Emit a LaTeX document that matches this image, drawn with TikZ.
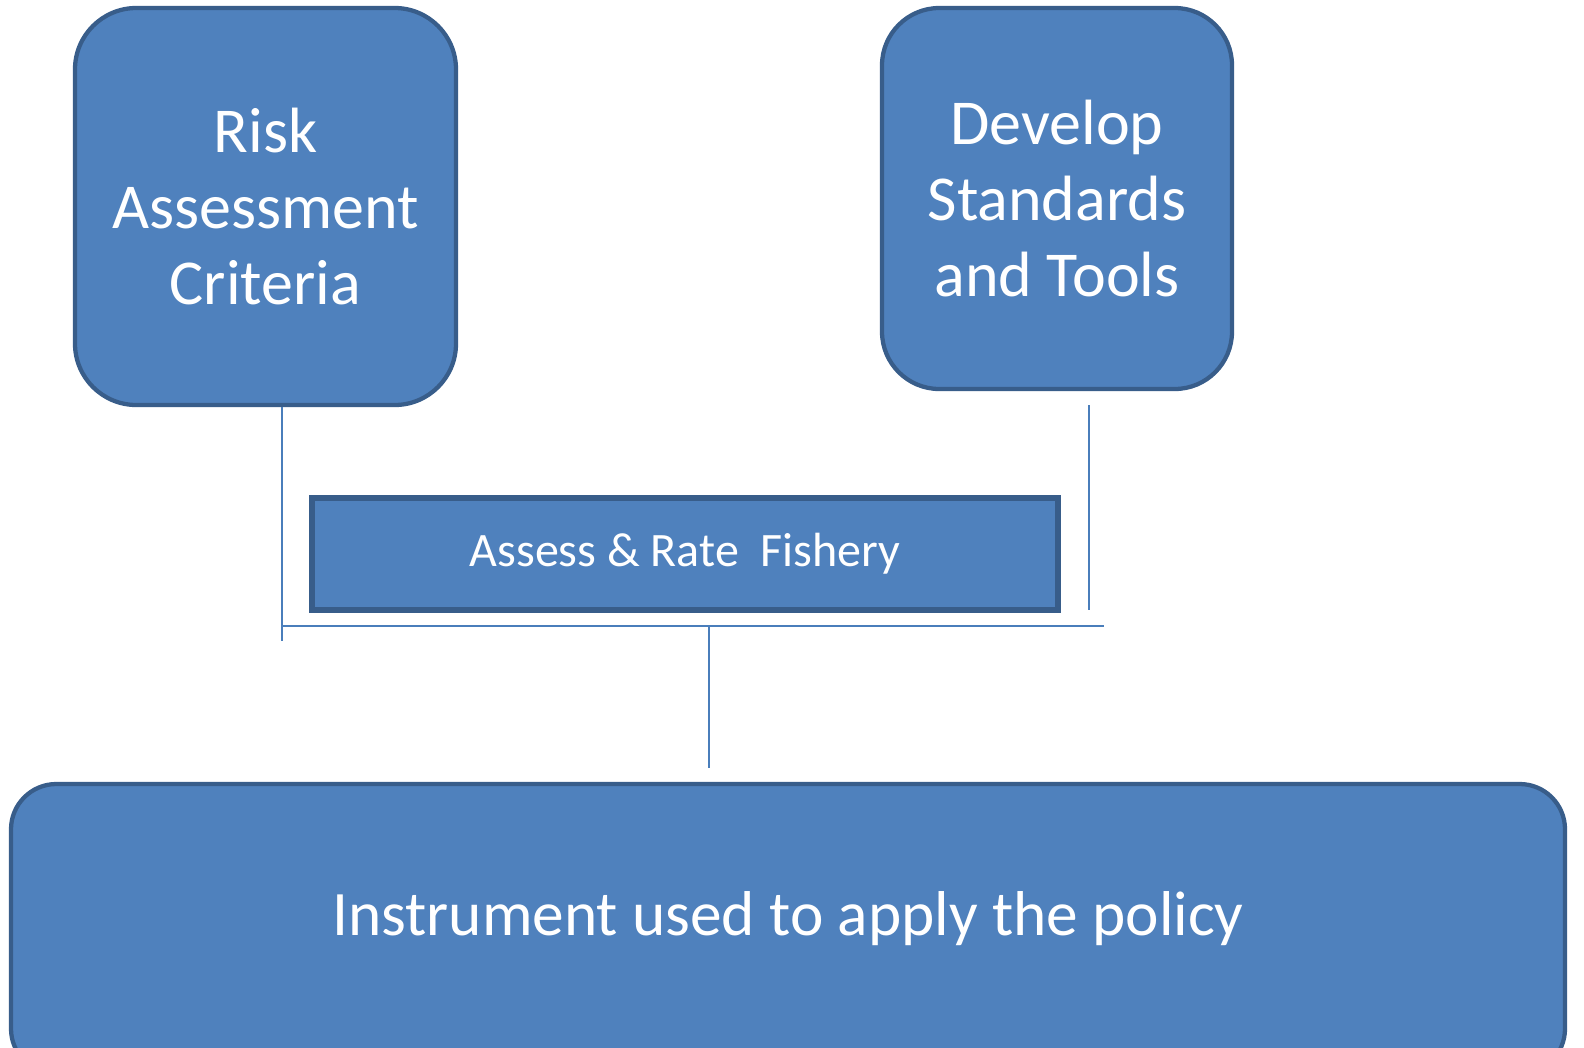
\documentclass[tikz,border=0pt]{standalone}
\usepackage{fontspec}
\setmainfont{Carlito}
\definecolor{boxfill}{HTML}{4F81BD}
\definecolor{boxline}{HTML}{385D8A}
\definecolor{conn}{HTML}{4A7EBB}
\begin{document}
\begin{tikzpicture}[x=0.75pt,y=-0.75pt,
  bigbox/.style={draw=boxline,fill=boxfill,line width=3.2pt,text=white,align=center,inner sep=0pt},
  connline/.style={draw=conn,line width=1.1pt}]
\clip (0,0) rectangle (1584,1047);
\useasboundingbox (0,0) rectangle (1584,1047);
\fill[white] (0,0) rectangle (1584,1047);
\node[bigbox,rounded corners=46pt,minimum width=381*0.75pt,minimum height=397*0.75pt,
  font=\fontsize{48}{57}\selectfont] (risk) at (265.5,206.5) {Risk\\Assessment\\Criteria};
\node[bigbox,rounded corners=43pt,minimum width=350*0.75pt,minimum height=381*0.75pt,
  font=\fontsize{48}{57}\selectfont] (dev) at (1057,198.5) {Develop\\Standards\\and Tools};
\node[bigbox,line width=3.9pt,minimum width=746*0.75pt,minimum height=112*0.75pt,
  font=\fontsize{36}{43}\selectfont] (assess) at (685,554) {Assess \& Rate\ \ Fishery};
\node[bigbox,rounded corners=34pt,minimum width=1554*0.75pt,minimum height=290*0.75pt] (inst) at (788,929) {};
\node[text=white,inner sep=0pt,font=\fontsize{47.5}{57}\selectfont,anchor=base] (insttext) at (788,935) {Instrument used to apply the policy};
\coordinate (lb) at (282,641);
\coordinate (rt) at (1089,405);
\coordinate (rb) at (1089,610);
\coordinate (hl) at (282,626);
\coordinate (hr) at (1104,626);
\coordinate (mj) at (709,626);
\coordinate (mb) at (709,768);
\draw[connline] (risk.south -| lb) -- (lb);
\draw[connline] (rt) -- (rb);
\draw[connline] (hl) -- (hr);
\draw[connline] (mj) -- (mb);
\end{tikzpicture}
\end{document}
